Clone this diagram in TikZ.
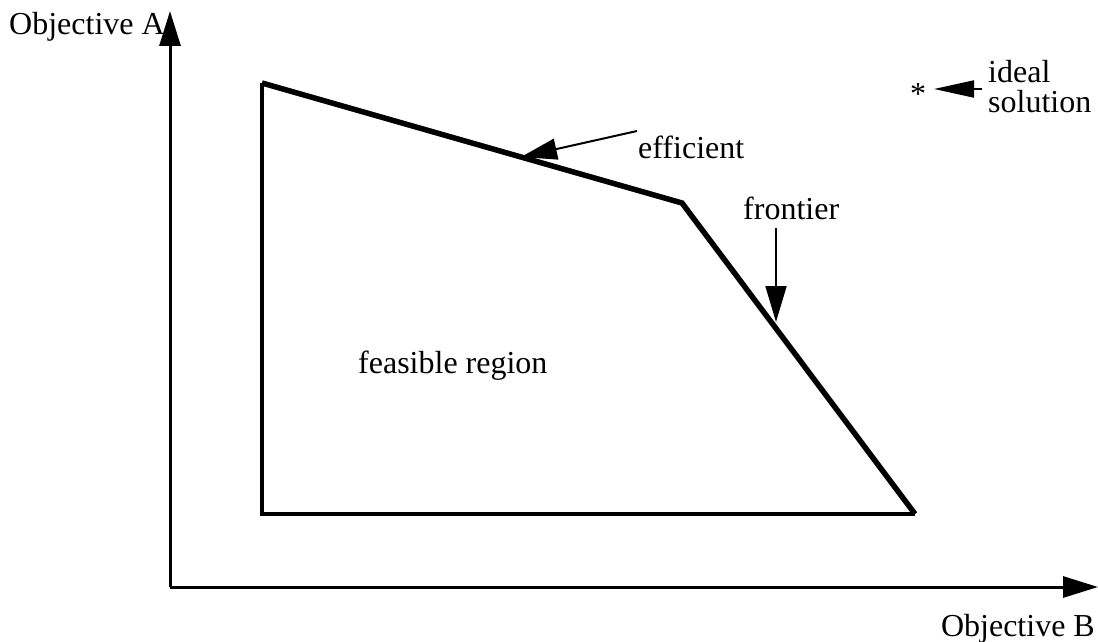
\documentclass[tikz,border=0pt]{standalone}
\usepackage{fontspec}
\setmainfont{Liberation Serif}
\usetikzlibrary{arrows.meta}
\begin{document}
\begin{tikzpicture}[x=1pt,y=-1pt,
  lbl/.style={font=\fontsize{32}{36}\selectfont, inner sep=0pt},
  axis/.style={line width=3pt, -{Triangle[length=35pt,width=21pt]}},
  pointer/.style={line width=2pt, -{Triangle[length=36pt,width=21pt]}},
  front/.style={line width=5.5pt, line join=miter},
  edge/.style={line width=3.5pt}]
\useasboundingbox (0,0) rectangle (1098,642);
\coordinate (O) at (170,587);
\coordinate (ytop) at (170,11);
\coordinate (xend) at (1098,587);
\coordinate (P1) at (262,83);
\coordinate (P2) at (682,203);
\coordinate (P3) at (915,514);
\coordinate (P4) at (262,514);
\draw[axis] (O) -- (ytop);
\draw[axis] (O) -- (xend);
\draw[edge] (P1) -- (P4) -- (P3);
\draw[front] (P1) -- (P2) -- (P3);
\node[lbl, anchor=base west] (oa) at (9,35) {Objective A};
\node[lbl, anchor=base east] (ob) at (1095,636) {Objective B};
\node[lbl, anchor=base west] (feas) at (358,373) {feasible region};
\node[lbl, anchor=base west] (eff) at (638,158) {efficient};
\coordinate (efftip) at (521,157);
\draw[pointer] (637,131) -- (efftip);
\node[lbl, anchor=base west] (fro) at (743,219) {frontier};
\coordinate (frotip) at (776,322);
\draw[pointer] (776,228) -- (frotip);
\node[lbl] (star) at (918,94) {*};
\coordinate (startip) at (934,89);
\node[lbl, anchor=base west] (ideal) at (988,82) {ideal};
\node[lbl, anchor=base west] (sol) at (988,112) {solution};
\draw[line width=2pt, -{Triangle[length=40pt,width=17pt]}] (982,89) -- (startip);
\end{tikzpicture}
\end{document}
